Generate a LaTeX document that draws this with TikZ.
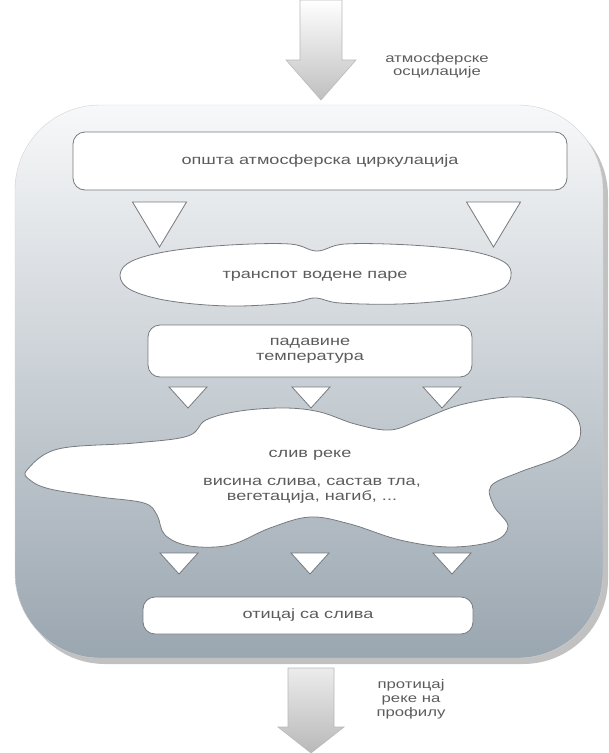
\documentclass[tikz,border=0pt]{standalone}
\usepackage{fontspec}
\newfontfamily\lblfont[FakeStretch=1.34]{Liberation Sans}
\usetikzlibrary{shadows}

\definecolor{panellight}{RGB}{247,248,249}
\definecolor{paneldark}{RGB}{154,166,176}
\definecolor{edgegray}{RGB}{118,122,126}
\definecolor{txtgray}{RGB}{92,92,92}

\begin{document}
\begin{tikzpicture}
  [x=1pt, y=-1pt,
   every node/.style={font=\lblfont\fontsize{13.5}{15}\selectfont, text=txtgray, align=center},
   panel/.style={rounded corners=85pt, draw=gray!35, top color=panellight, bottom color=paneldark,
                 minimum width=588pt, minimum height=553pt,
                 drop shadow={shadow xshift=5pt, shadow yshift=-6pt, opacity=.35, fill=black!70}},
   box/.style={draw=edgegray, fill=white, rounded corners=12pt, line width=0.8pt},
   cloudline/.style={draw=edgegray, fill=white, line width=0.8pt},
   flow/.style={draw=gray!55, top color=white, bottom color=gray!50, line width=0.6pt},
   bigtri/.pic={\draw[cloudline, line join=miter] (-27,0) -- (27,0) -- (0,45) -- cycle;},
   smalltri/.pic={\draw[cloudline, line join=miter] (-19,0) -- (19,0) -- (0,21) -- cycle;}]
  \useasboundingbox (0,0) rectangle (609,753);

  % outer panel
  \node[panel] (frame) at (309,381.5) {};

  % inflow arrow and label
  \draw[flow] (300,0) -- (342,0) -- (342,60) -- (356,60) -- (321,100) -- (286,60) -- (300,60) -- cycle;
  \node[font=\lblfont\fontsize{12.5}{13}\selectfont] (osc) at (437,66) {атмосферске\\осцилације};

  \node[box, minimum width=494pt, minimum height=58pt] (circ) at (320,161) {општа атмосферска циркулација};

  \pic at (159.5,202) {bigtri};
  \pic at (493.5,202) {bigtri};

  % vapour cloud
  \draw[cloudline] plot[smooth cycle, tension=0.6] coordinates
    {(120,275) (132,261) (170,251) (230,245) (290,244) (317,251) (345,244) (410,245)
     (470,251) (504,262) (511,276) (500,290) (460,299) (400,304) (340,303) (315,298)
     (290,303) (230,306) (170,301) (131,290)};
  \node (vapor) at (315,276) {транспот водене паре};

  \node[box, minimum width=324pt, minimum height=52pt] (precip) at (310,351) {падавине\\температура};

  \pic at (188,387) {smalltri};
  \pic at (311,387) {smalltri};
  \pic at (442,387) {smalltri};

  % river basin blob
  \draw[cloudline] plot[smooth cycle, tension=0.6] coordinates
    {(27,470) (58,449) (135,443) (188,436) (206,420) (240,411) (285,408) (320,412)
     (355,424) (390,430) (420,420) (460,405) (510,397) (555,402) (577,418) (579,440)
     (560,457) (520,472) (491,486) (494,506) (508,526) (494,541) (450,547) (400,540)
     (350,524) (310,517) (270,528) (230,545) (190,546) (165,535) (157,515) (144,503)
     (100,497) (50,489) (30,480)};
  \node (basin) at (310,455) {слив реке};
  \node (traits) at (312,491) {висина слива, састав тла,\\вегетација, нагиб, ...};

  \pic at (179,553) {smalltri};
  \pic at (310,553) {smalltri};
  \pic at (452,553) {smalltri};

  \node[box, minimum width=330pt, minimum height=37pt] (runoff) at (308,615.5) {отицај са слива};

  % outflow arrow and label
  \draw[flow, top color=gray!15, bottom color=gray!55] (288,668) -- (334,668) -- (334,727) -- (344,727)
    -- (311,753) -- (278,727) -- (288,727) -- cycle;
  \node[font=\lblfont\fontsize{12.5}{14}\selectfont] (discharge) at (411,699) {протицај\\реке на\\профилу};
\end{tikzpicture}
\end{document}
